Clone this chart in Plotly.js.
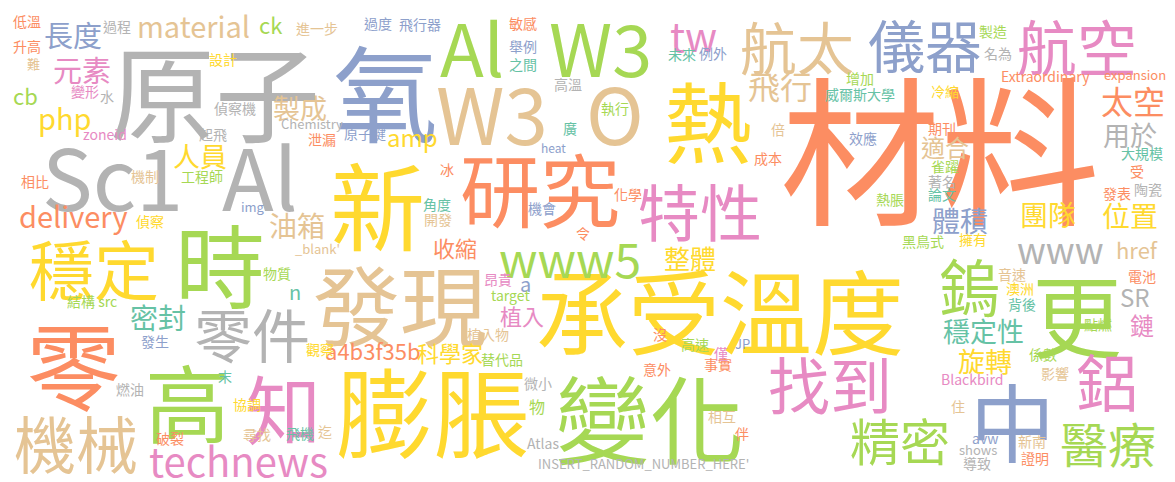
<!DOCTYPE html>
<html>
<head>
<meta charset="utf-8">
<script src="https://cdn.plot.ly/plotly-3.0.1.min.js"></script>
<style>body{margin:0;background:#fff}#cloud{width:1175px;height:482px}</style>
</head>
<body>
<div id="cloud"></div>
<script>
// 詞雲資料：詞、位置 (像素)、字級、色號
const words = ["材料","原子","氧","承受溫度","膨脹","變化","發現","零","新","時","高","更","中","熱",
  "Sc1","Al","Al","W3","W3","O","研究","航太","儀器","航空","特性","知","穩定","www5","鎢","找到","鋁",
  "零件","機械","technews","精密","醫療","tw","飛行","太空","用於","適合","體積","團隊","位置","www","href","SR",
  "穩定性","鏈","旋轉","油箱","人員","製成","delivery","amp","整體","收縮","長度","元素","php","cb","material","ck",
  "密封","a4b3f35b","科學家","植入","n","a","Blackbird",
  "低溫","升高","難","過程","進一步","過度","設計","變形","水","偵察機","Chemistry","zoneid","起飛","原子鍵","泄漏",
  "相比","機制","工程師","img","偵察","_blank'","物質","結構 src","發生","觀察","末","燃油","協調","破裂","尋找","飛機","迄",
  "飛行器","敏感","舉例","未來","例外","之間","高溫","增加","威爾斯大學","執行","廣","倍","heat","效應","成本",
  "製造","名為","Extraordinary","expansion","冷縮","期刊","大規模","雀躍","著名","論文","熱脹","受","發表","陶瓷",
  "黑鳥式","擁有","音速","澳洲","背後","點燃","電池","係數","影響",
  "角度","開發","冰","機會","化學","令","昂貴","target","植入物","沒",
  "替代品","高速","僅","JP","事實","意外","微小","物","相互","伴","Atlas","INSERT_RANDOM_NUMBER_HERE'",
  "住","avw","shows","導致","新南","證明"];
const xs = [940,215,385,720,433,650,400,73,377,220,187,1077,1012,708,
  112,260,472,600,492,615,540,797,925,1077,700,283,94,570,970,830,1107,
  252,76,238,900,1108,693,780,1133,1130,945,960,1048,1130,1060,1137,1135,
  983,1142,985,297,200,300,73,412,690,455,73,82,65,25,193,270,
  158,373,450,522,295,525,972,
  27,27,33,117,317,378,223,85,107,235,312,105,213,365,322,
  35,145,202,253,150,317,277,92,155,320,225,130,247,170,257,300,325,
  420,523,523,682,713,523,568,860,860,615,570,778,553,863,768,
  993,998,1045,1135,945,942,1142,945,942,942,890,1137,1117,1148,
  923,973,1012,1020,1022,1098,1142,1043,1055,
  437,438,447,542,628,583,498,510,488,660,
  502,695,721,742,718,657,538,537,722,742,543,643,
  958,985,978,977,1032,1035];
const ys = [130,80,80,300,400,408,295,355,195,255,393,305,412,110,
  167,167,40,40,105,105,180,40,38,40,205,400,262,253,280,378,375,
  328,437,457,435,438,32,82,97,132,145,218,212,213,245,247,295,
  328,323,358,223,153,105,213,135,255,245,32,67,115,93,23,22,
  315,348,350,313,290,282,378,
  20,45,62,25,27,22,58,90,95,107,122,133,133,132,138,
  180,175,175,205,220,247,272,300,340,348,375,388,403,437,433,432,430,
  23,22,45,53,52,63,83,77,93,107,127,128,147,137,157,
  30,52,75,73,90,127,152,165,180,193,198,170,192,188,
  240,238,273,287,303,323,275,353,372,
  203,218,168,207,193,232,278,294,333,333,
  358,343,352,342,363,368,382,405,415,432,442,462,
  405,437,448,462,440,457];
const sizes = [160,105,105,92,97,95,87,95,95,90,85,90,85,88,
  85,85,72,72,78,78,80,57,57,60,62,75,65,48,62,62,62,
  58,62,40,50,48,40,32,32,27,24,28,28,28,36,22,24,
  27,24,27,28,27,27,29,24,26,22,29,29,29,22,29,22,
  28,22,22,22,20,20,14,
  14,14,13,14,14,14,14,14,14,14,13,14,14,14,14,
  14,14,14,13,14,13,14,14,14,14,14,14,14,14,14,14,14,
  14,14,14,14,14,14,14,14,14,14,14,14,12,14,14,
  14,14,14,13,14,14,14,14,14,14,14,14,14,14,
  14,14,14,14,14,14,14,14,14,
  14,14,14,14,14,14,14,14,14,14,
  14,14,14,13,14,14,14,16,14,14,14,13,
  14,14,13,14,14,14];
// 0 teal 1 orange 2 blue 3 pink 4 green 5 yellow 6 beige 7 grey
const tones = [1,7,2,5,5,4,6,1,5,4,4,4,2,5,
  7,7,4,4,6,6,1,6,2,3,3,3,5,4,4,3,3,
  7,6,3,4,4,3,6,1,7,6,2,5,5,7,6,7,
  0,3,5,6,5,6,1,5,5,1,2,3,5,4,6,4,
  0,1,5,3,0,2,3,
  1,1,6,7,6,2,5,3,7,7,7,3,7,2,1,
  1,6,4,2,5,6,4,4,2,5,0,7,5,1,6,0,6,
  2,1,2,0,2,0,7,4,0,4,0,6,2,2,1,
  4,7,1,1,5,1,0,4,7,0,4,1,1,7,
  4,5,6,5,0,4,1,4,6,
  0,6,1,2,1,1,3,4,6,1,
  4,4,3,2,1,1,7,4,6,1,7,7,
  6,2,7,7,6,1];
const palette = ["#66c2a5","#fc8d62","#8da0cb","#e78ac3","#a6d854","#ffd92f","#e5c494","#b3b3b3"];

// Noto CJK 字形偏上，往下補一點
const annotations = words.map((w, i) => ({
  text: w, x: xs[i], y: ys[i] + sizes[i] * 0.08, xref: "x", yref: "y", showarrow: false,
  xanchor: "center", yanchor: "middle",
  font: { family: "Noto Sans CJK TC, Noto Sans, sans-serif", size: sizes[i], color: palette[tones[i]] }
}));

Plotly.newPlot("cloud", [], {
  width: 1175, height: 482,
  margin: { l: 0, r: 0, t: 0, b: 0 },
  paper_bgcolor: "#fff", plot_bgcolor: "#fff",
  xaxis: { range: [0, 1175], visible: false, fixedrange: true },
  yaxis: { range: [482, 0], visible: false, fixedrange: true },
  annotations: annotations,
  showlegend: false
}, { displayModeBar: false, staticPlot: true });
</script>
</body>
</html>
